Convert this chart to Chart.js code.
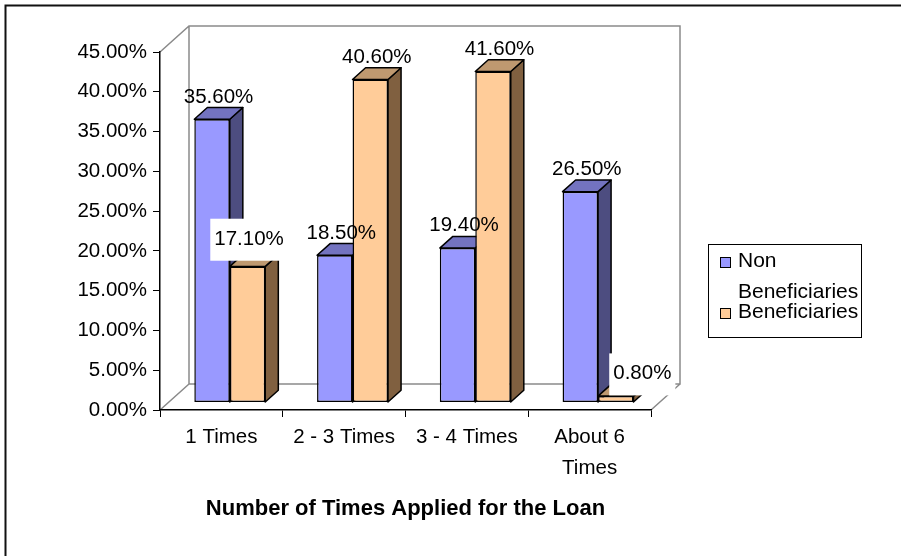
<!DOCTYPE html>
<html><head><meta charset="utf-8">
<script src="https://cdn.jsdelivr.net/npm/chart.js@4/dist/chart.umd.min.js"></script>
<style>html,body{margin:0;padding:0;background:#fff}canvas{display:block}</style>
</head><body>
<canvas id="c" width="901" height="556"></canvas>
<script>
// ---- data ----
const categories = ['1 Times', '2 - 3 Times', '3 - 4 Times', ['About 6', 'Times']];
const seriesNames = ['Non Beneficiaries', 'Beneficiaries'];
const legendLines = [['Non', 'Beneficiaries'], ['Beneficiaries']];
const nonBeneficiaries = [35.6, 18.5, 19.4, 26.5];
const beneficiaries = [17.1, 40.6, 41.6, 0.8];
const yMin = 0, yMax = 45, yStep = 5;
const xTitle = 'Number of Times Applied for the Loan';

// ---- style ----
const FONT = "'Liberation Sans', Arial, sans-serif";
const DEPTH = {x: 29, y: -26};
const FRONT_FRAC = 0.29, BAR_FRAC = 0.45;
const faceColors = [
  {front: '#9999FF', side: '#4D4D80', top: '#7373C0'},
  {front: '#FFCC99', side: '#806040', top: '#BF9970'}
];
const LABEL_NUDGE = {'1-3': 20, '1-0': -5};
const pct = v => v.toFixed(2) + '%';

const fx = DEPTH.x * FRONT_FRAC, fy = DEPTH.y * FRONT_FRAC;
const dx = DEPTH.x * BAR_FRAC, dy = DEPTH.y * BAR_FRAC;

const plugin3d = {
  id: 'excel3d',
  beforeDraw(chart) {
    const {ctx, chartArea: a} = chart;
    ctx.save();
    ctx.fillStyle = '#fff';
    ctx.fillRect(0, 0, chart.width, chart.height);
    ctx.strokeStyle = '#111'; ctx.lineWidth = 2;
    ctx.beginPath();
    ctx.moveTo(5.5, chart.height); ctx.lineTo(5.5, 5.5); ctx.lineTo(chart.width, 5.5);
    ctx.stroke();
    const bx = a.left + DEPTH.x, by = a.top + DEPTH.y, bb = a.bottom + DEPTH.y, br = a.right + DEPTH.x;
    ctx.strokeStyle = '#8a8a8a'; ctx.lineWidth = 1.5;
    ctx.beginPath();
    ctx.moveTo(a.left, a.top); ctx.lineTo(bx, by); ctx.lineTo(br, by); ctx.lineTo(br, bb);
    ctx.lineTo(bx, bb); ctx.lineTo(bx, by);
    ctx.moveTo(a.left, a.bottom); ctx.lineTo(bx, bb);
    ctx.moveTo(a.right, a.bottom); ctx.lineTo(br, bb);
    ctx.stroke();
    ctx.restore();
  },
  beforeDatasetsDraw(chart) {
    const ctx = chart.ctx;
    ctx.save();
    ctx.translate(fx, fy);
    const metas = chart.data.datasets.map((d, i) => chart.getDatasetMeta(i));
    const n = chart.data.labels.length;
    for (let j = 0; j < n; j++) {
      metas.forEach((meta, i) => {
        const el = meta.data[j];
        el.draw(ctx, chart.chartArea);
        const {x, y, base, width} = el.getProps(['x', 'y', 'base', 'width'], true);
        const L = x - width / 2, R = x + width / 2;
        const c = faceColors[i];
        ctx.lineWidth = 1.5; ctx.strokeStyle = '#000'; ctx.lineJoin = 'round';
        ctx.beginPath();
        ctx.moveTo(R, y); ctx.lineTo(R + dx, y + dy); ctx.lineTo(R + dx, base + dy); ctx.lineTo(R, base);
        ctx.closePath();
        ctx.fillStyle = c.side; ctx.fill(); ctx.stroke();
        ctx.beginPath();
        ctx.moveTo(L, y); ctx.lineTo(L + dx, y + dy); ctx.lineTo(R + dx, y + dy); ctx.lineTo(R, y);
        ctx.closePath();
        ctx.fillStyle = c.top; ctx.fill(); ctx.stroke();
      });
    }
    ctx.restore();
    return false;
  },
  afterDraw(chart) {
    const ctx = chart.ctx;
    ctx.save();
    ctx.font = `20.5px ${FONT}`;
    ctx.textAlign = 'center';
    ctx.textBaseline = 'alphabetic';
    chart.data.datasets.forEach((ds, i) => {
      const meta = chart.getDatasetMeta(i);
      meta.data.forEach((el, j) => {
        const {x, y} = el.getProps(['x', 'y'], true);
        const text = pct(ds.data[j]);
        const lx = x + fx + dx / 2 + (LABEL_NUDGE[i + '-' + j] || 0);
        const ly = y + fy + dy - 5 - (i === 1 && j === 0 ? 5 : 0);
        if (i === 1 && ds.data[j] < chart.data.datasets[0].data[j]) {
          const w = ctx.measureText(text).width;
          ctx.fillStyle = '#fff';
          ctx.fillRect(lx - w / 2 - 4, ly - 26, w + 8, 42);
        }
        ctx.fillStyle = '#000';
        ctx.fillText(text, lx, ly);
      });
    });
    // legend
    const lx = chart.width - 193, ly = 244, lw = 153, lh = 93;
    ctx.font = `21px ${FONT}`;
    ctx.strokeStyle = '#000'; ctx.lineWidth = 1;
    ctx.strokeRect(lx + 0.5, ly + 0.5, lw, lh);
    ctx.textAlign = 'left';
    const itemTop = [ly + 23, ly + 74];
    chart.data.datasets.forEach((ds, i) => {
      const base = itemTop[i];
      ctx.fillStyle = faceColors[i].front;
      ctx.fillRect(lx + 12.5, base - 9.5, 10, 10);
      ctx.strokeStyle = '#000';
      ctx.strokeRect(lx + 12.5, base - 9.5, 10, 10);
      ctx.fillStyle = '#000';
      legendLines[i].forEach((t, k) => ctx.fillText(t, lx + 30, base + k * 31));
    });
    ctx.restore();
  }
};

new Chart(document.getElementById('c'), {
  type: 'bar',
  data: {
    labels: categories,
    datasets: [
      {label: seriesNames[0], data: nonBeneficiaries, backgroundColor: faceColors[0].front,
       borderColor: '#000', borderWidth: 1.5, borderSkipped: false},
      {label: seriesNames[1], data: beneficiaries, backgroundColor: faceColors[1].front,
       borderColor: '#000', borderWidth: 1.5, borderSkipped: false}
    ]
  },
  options: {
    responsive: false,
    animation: false,
    events: [],
    categoryPercentage: 0.578,
    barPercentage: 1,
    layout: {padding: {left: 0, top: 52, right: 250, bottom: 0}},
    plugins: {legend: {display: false}, tooltip: {enabled: false}},
    scales: {
      x: {
        grid: {display: true, drawOnChartArea: false, drawTicks: true, tickLength: 7, color: '#000', offset: true},
        border: {display: true, color: '#000', width: 1.5},
        ticks: {font: {family: FONT, size: 20.5, lineHeight: 1.55}, color: '#000', padding: 4,
                maxRotation: 0, autoSkip: false},
        title: {display: true, text: xTitle, color: '#000',
                font: {family: FONT, size: 22, weight: 'bold', lineHeight: 1.2},
                padding: {top: 0, bottom: 34}},
        afterFit(s) { s.height = 146; }
      },
      y: {
        min: yMin, max: yMax,
        grid: {display: true, drawOnChartArea: false, drawTicks: true, tickLength: 7, color: '#000'},
        border: {display: true, color: '#000', width: 1.5},
        ticks: {stepSize: yStep, font: {family: FONT, size: 20.5}, color: '#000', padding: 6,
                callback: v => pct(v)},
        afterFit(s) { s.width = 160; }
      }
    }
  },
  plugins: [plugin3d]
});
</script>
</body></html>
